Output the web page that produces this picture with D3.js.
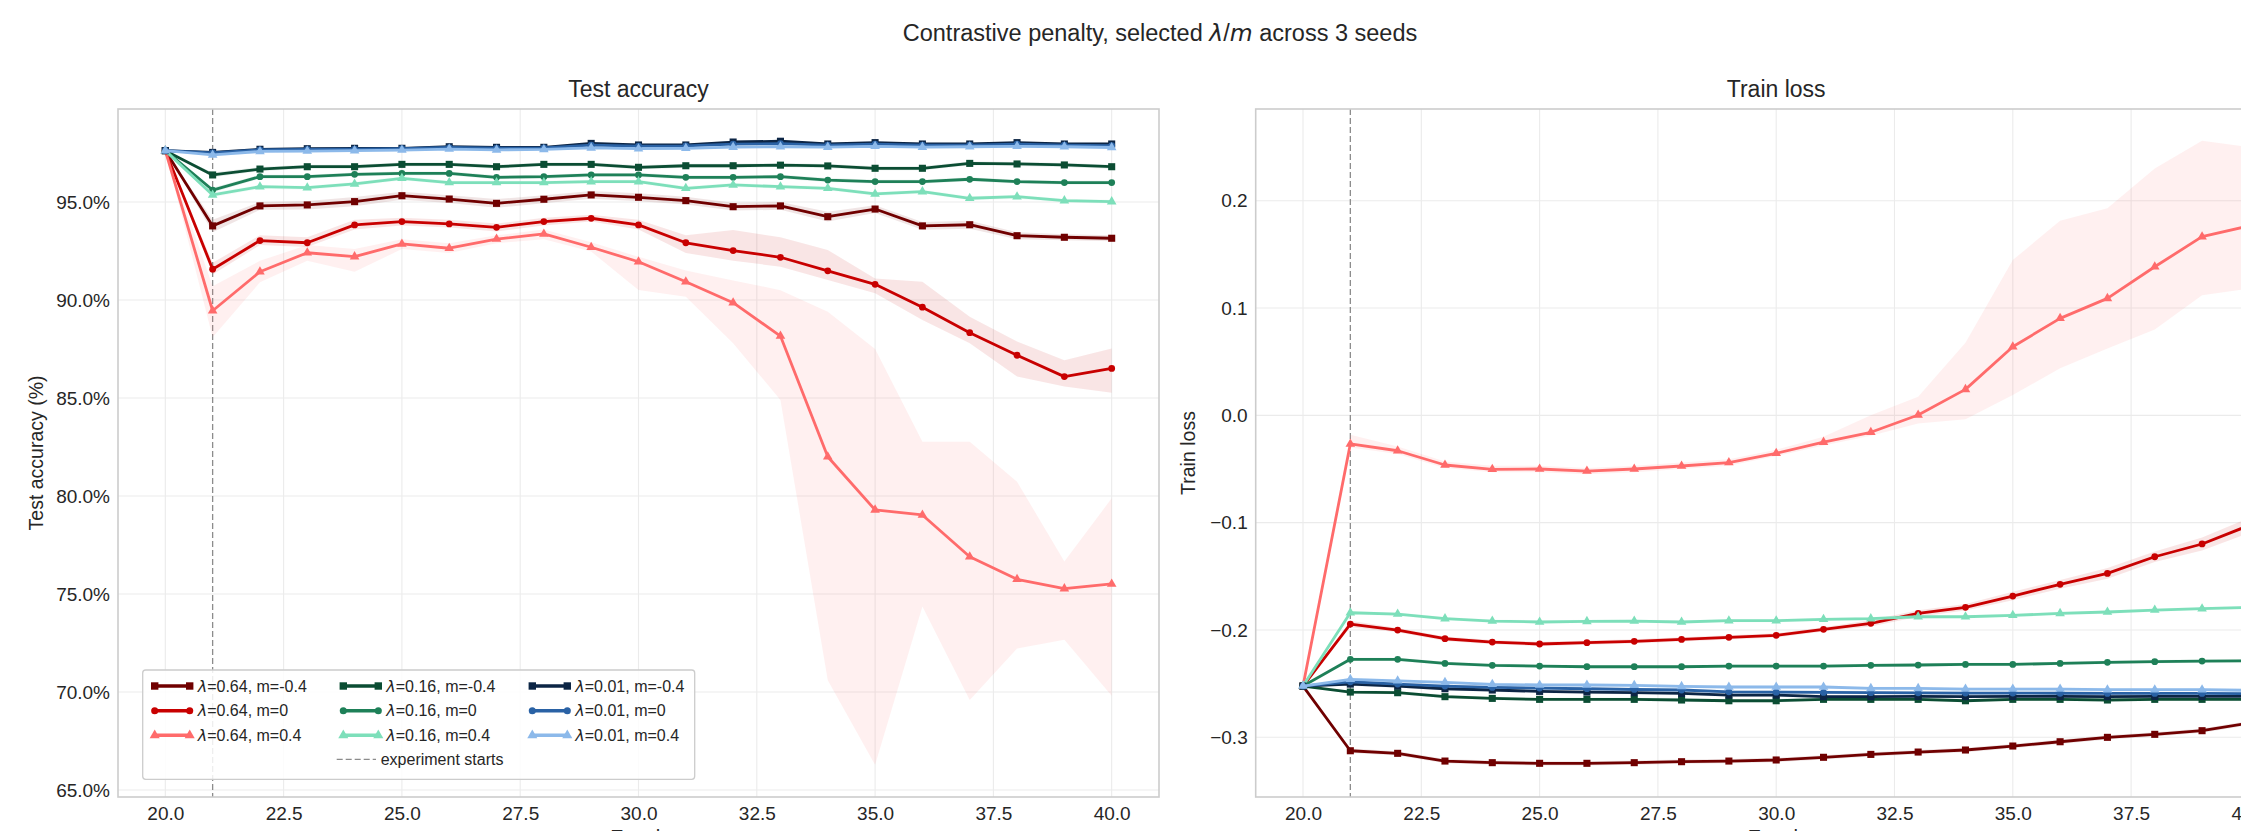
<!DOCTYPE html>
<html><head><meta charset="utf-8">
<script src="https://cdn.jsdelivr.net/npm/d3@7/dist/d3.min.js"></script>
<style>
body{margin:0;background:#fff}
svg{display:block}
text{font-family:'Liberation Sans',Arial,sans-serif;fill:#262626}
.math{font-family:'DejaVu Sans',sans-serif;font-style:italic}
</style>
</head><body>
<svg id="chart" width="2241" height="831"></svg>
<script>
// ---------------- data ----------------
const epochs = [20,21,22,23,24,25,26,27,28,29,30,31,32,33,34,35,36,37,38,39,40];
const xTicks = [20,22.5,25,27.5,30,32.5,35,37.5,40];
const accTicks = [65,70,75,80,85,90,95];
const lossTicks = [-0.3,-0.2,-0.1,0.0,0.1,0.2];

const lambdas = ["0.64","0.16","0.01"];
const margins = ["-0.4","0","0.4"];
const markerShapes = ["square","circle","triangle"];
const colors = [
  ["#700000","#c80000","#ff6b6b"],
  ["#0b4d33","#1e8058","#7ddfba"],
  ["#0c2545","#2a62a5","#8cb9ea"]
];

// Test accuracy (%) per series
const acc_l064_mneg = [97.62,93.78,94.80,94.85,95.02,95.32,95.15,94.93,95.14,95.36,95.24,95.07,94.76,94.80,94.25,94.64,93.78,93.84,93.28,93.20,93.15];
const acc_l064_m0   = [97.62,91.57,93.03,92.92,93.83,94.00,93.88,93.71,94.00,94.17,93.83,92.92,92.52,92.18,91.49,90.80,89.63,88.33,87.18,86.09,86.51];
const acc_l064_mpos = [97.62,89.45,91.44,92.41,92.21,92.86,92.64,93.11,93.37,92.69,91.95,90.93,89.86,88.16,82.00,79.29,79.03,76.90,75.75,75.27,75.51];
const acc_l016_mneg = [97.62,96.38,96.68,96.80,96.80,96.92,96.92,96.80,96.92,96.92,96.77,96.85,96.85,96.88,96.84,96.72,96.72,96.97,96.94,96.89,96.80];
const acc_l016_m0   = [97.62,95.61,96.29,96.29,96.41,96.46,96.46,96.26,96.29,96.38,96.38,96.26,96.26,96.29,96.12,96.04,96.04,96.16,96.04,95.99,95.99];
const acc_l016_mpos = [97.62,95.36,95.78,95.73,95.92,96.21,95.99,95.99,95.99,96.04,96.04,95.70,95.87,95.78,95.70,95.41,95.53,95.19,95.27,95.07,95.02];
const acc_l001_mneg = [97.62,97.53,97.69,97.72,97.74,97.74,97.82,97.79,97.79,97.99,97.91,97.91,98.06,98.10,97.96,98.03,97.96,97.96,98.03,97.96,97.96];
const acc_l001_m0   = [97.62,97.50,97.66,97.68,97.70,97.72,97.78,97.75,97.76,97.90,97.85,97.86,97.95,97.98,97.90,97.95,97.90,97.90,97.95,97.90,97.88];
const acc_l001_mpos = [97.62,97.40,97.58,97.60,97.62,97.65,97.70,97.66,97.68,97.76,97.72,97.74,97.80,97.82,97.80,97.84,97.80,97.82,97.84,97.82,97.78];

// Test accuracy shaded bands (lower / upper)
const accLo_l064_mneg = [97.62,93.45,94.60,94.62,94.78,95.12,94.95,94.70,94.94,95.16,95.04,94.87,94.56,94.60,94.00,94.44,93.58,93.64,93.10,93.05,93.00];
const accHi_l064_mneg = [97.62,94.10,95.00,95.05,95.25,95.52,95.35,95.15,95.34,95.56,95.44,95.27,94.96,95.00,94.50,94.84,93.98,94.04,93.46,93.35,93.30];
const accLo_l064_m0   = [97.62,91.30,92.80,92.70,93.60,93.80,93.70,93.50,93.80,94.00,93.60,92.40,92.00,91.70,91.02,90.34,88.98,87.79,86.10,85.58,85.27];
const accHi_l064_m0   = [97.62,91.90,93.30,93.20,94.10,94.20,94.10,93.90,94.20,94.35,94.10,93.30,93.57,93.20,92.55,91.10,90.93,89.15,87.88,86.93,87.53];
const accLo_l064_mpos = [97.62,88.10,90.90,92.00,91.44,92.60,92.40,92.90,93.10,92.47,90.51,90.17,87.79,84.90,70.60,66.28,74.36,69.59,72.22,72.67,69.80];
const accHi_l064_mpos = [97.62,90.70,92.00,92.80,92.60,93.10,92.90,93.30,93.60,92.95,92.20,91.50,91.00,90.50,89.40,87.50,82.77,82.77,80.73,76.65,79.88];
const accSpread_l016 = [0,0.12,0.1,0.1,0.1,0.1,0.1,0.1,0.1,0.1,0.1,0.1,0.1,0.1,0.1,0.1,0.1,0.1,0.1,0.1,0.1];
const accSpread_l001 = [0,0.08,0.06,0.06,0.06,0.06,0.06,0.06,0.06,0.06,0.06,0.06,0.06,0.06,0.06,0.06,0.06,0.06,0.06,0.06,0.06];

// Train loss per series
const loss_l064_mneg = [-0.2523,-0.3126,-0.3150,-0.3222,-0.3237,-0.3243,-0.3243,-0.3237,-0.3228,-0.3222,-0.3212,-0.3187,-0.3160,-0.3138,-0.3119,-0.3082,-0.3042,-0.3001,-0.2973,-0.2939,-0.2868];
const loss_l064_m0   = [-0.2523,-0.1945,-0.2001,-0.2082,-0.2113,-0.2131,-0.2119,-0.2106,-0.2088,-0.2069,-0.2050,-0.1994,-0.1938,-0.1846,-0.1789,-0.1684,-0.1575,-0.1473,-0.1318,-0.1199,-0.1025];
const loss_l064_mpos = [-0.2523,-0.0267,-0.0330,-0.0463,-0.0503,-0.0500,-0.0519,-0.0500,-0.0472,-0.0440,-0.0354,-0.0250,-0.0158,0.0003,0.0242,0.0639,0.0904,0.1090,0.1385,0.1665,0.1766];
const loss_l016_mneg = [-0.2523,-0.2579,-0.2585,-0.2622,-0.2638,-0.2647,-0.2647,-0.2647,-0.2653,-0.2660,-0.2660,-0.2647,-0.2647,-0.2647,-0.2660,-0.2647,-0.2647,-0.2653,-0.2647,-0.2647,-0.2647];
const loss_l016_m0   = [-0.2523,-0.2274,-0.2274,-0.2312,-0.2330,-0.2337,-0.2343,-0.2343,-0.2343,-0.2337,-0.2337,-0.2337,-0.2330,-0.2327,-0.2321,-0.2321,-0.2312,-0.2302,-0.2296,-0.2290,-0.2287];
const loss_l016_mpos = [-0.2523,-0.1840,-0.1852,-0.1895,-0.1917,-0.1926,-0.1920,-0.1917,-0.1926,-0.1914,-0.1914,-0.1901,-0.1895,-0.1877,-0.1877,-0.1864,-0.1846,-0.1833,-0.1815,-0.1802,-0.1790];
const loss_l001_mneg = [-0.2523,-0.2505,-0.2523,-0.2548,-0.2560,-0.2573,-0.2579,-0.2585,-0.2592,-0.2607,-0.2607,-0.2622,-0.2622,-0.2620,-0.2622,-0.2620,-0.2620,-0.2622,-0.2620,-0.2620,-0.2620];
const loss_l001_m0   = [-0.2523,-0.2483,-0.2505,-0.2523,-0.2536,-0.2542,-0.2548,-0.2555,-0.2560,-0.2577,-0.2580,-0.2582,-0.2585,-0.2586,-0.2588,-0.2588,-0.2590,-0.2592,-0.2592,-0.2592,-0.2594];
const loss_l001_mpos = [-0.2523,-0.2460,-0.2474,-0.2488,-0.2507,-0.2513,-0.2513,-0.2516,-0.2526,-0.2532,-0.2532,-0.2532,-0.2545,-0.2545,-0.2551,-0.2551,-0.2551,-0.2557,-0.2557,-0.2557,-0.2563];

// Train loss shaded bands
const lossLo_l064_mpos = [-0.2523,-0.0300,-0.0360,-0.0490,-0.0530,-0.0530,-0.0550,-0.0530,-0.0500,-0.0470,-0.0380,-0.0280,-0.0190,-0.0075,-0.0037,0.0190,0.0438,0.0624,0.0800,0.1120,0.1180];
const lossHi_l064_mpos = [-0.2523,-0.0180,-0.0290,-0.0430,-0.0470,-0.0470,-0.0490,-0.0470,-0.0440,-0.0410,-0.0320,-0.0200,0.0000,0.0174,0.0677,0.1447,0.1814,0.1929,0.2300,0.2560,0.2500];
const lossSpread_l064_m0 = [0,0.003,0.002,0.002,0.002,0.002,0.002,0.002,0.002,0.002,0.002,0.002,0.003,0.003,0.003,0.004,0.004,0.005,0.005,0.006,0.007];
const lossSpread_l064_mneg = [0,0.002,0.002,0.002,0.002,0.002,0.002,0.002,0.002,0.002,0.002,0.002,0.002,0.002,0.002,0.002,0.002,0.002,0.002,0.002,0.002];
const lossSpread_small = [0,0.0015,0.0015,0.0015,0.0015,0.0015,0.0015,0.0015,0.0015,0.0015,0.0015,0.0015,0.0015,0.0015,0.0015,0.0015,0.0015,0.0015,0.0015,0.0015,0.0015];

// --------------- assemble series ---------------
function band(v, s){ return {lo: v.map((d,i)=>d - s[i]), hi: v.map((d,i)=>d + s[i])}; }
const accSeries = [
  {li:0, mi:0, v:acc_l064_mneg, lo:accLo_l064_mneg, hi:accHi_l064_mneg},
  {li:0, mi:1, v:acc_l064_m0,   lo:accLo_l064_m0,   hi:accHi_l064_m0},
  {li:0, mi:2, v:acc_l064_mpos, lo:accLo_l064_mpos, hi:accHi_l064_mpos},
  {li:1, mi:0, v:acc_l016_mneg, ...band(acc_l016_mneg, accSpread_l016)},
  {li:1, mi:1, v:acc_l016_m0,   ...band(acc_l016_m0, accSpread_l016)},
  {li:1, mi:2, v:acc_l016_mpos, ...band(acc_l016_mpos, accSpread_l016)},
  {li:2, mi:0, v:acc_l001_mneg, ...band(acc_l001_mneg, accSpread_l001)},
  {li:2, mi:1, v:acc_l001_m0,   ...band(acc_l001_m0, accSpread_l001)},
  {li:2, mi:2, v:acc_l001_mpos, ...band(acc_l001_mpos, accSpread_l001)}
];
const lossSeries = [
  {li:0, mi:0, v:loss_l064_mneg, ...band(loss_l064_mneg, lossSpread_l064_mneg)},
  {li:0, mi:1, v:loss_l064_m0,   ...band(loss_l064_m0, lossSpread_l064_m0)},
  {li:0, mi:2, v:loss_l064_mpos, lo:lossLo_l064_mpos, hi:lossHi_l064_mpos},
  {li:1, mi:0, v:loss_l016_mneg, ...band(loss_l016_mneg, lossSpread_small)},
  {li:1, mi:1, v:loss_l016_m0,   ...band(loss_l016_m0, lossSpread_small)},
  {li:1, mi:2, v:loss_l016_mpos, ...band(loss_l016_mpos, lossSpread_small)},
  {li:2, mi:0, v:loss_l001_mneg, ...band(loss_l001_mneg, lossSpread_small)},
  {li:2, mi:1, v:loss_l001_m0,   ...band(loss_l001_m0, lossSpread_small)},
  {li:2, mi:2, v:loss_l001_mpos, ...band(loss_l001_mpos, lossSpread_small)}
];

// --------------- drawing ---------------
const svg = d3.select("#chart");
const TOP = 109, BOTTOM = 797;

function symbolFor(shape, legend){
  const t = shape==="square" ? d3.symbolSquare : shape==="circle" ? d3.symbolCircle : d3.symbolTriangle;
  const s = shape==="square" ? 50 : shape==="circle" ? 36 : 40;
  return d3.symbol().type(t).size(legend ? s*1.1 : s)();
}

function panel(opts){
  const x = d3.scaleLinear().domain([19,41]).range([opts.left, opts.left+1041]);
  const y = d3.scaleLinear().domain(opts.yDomain).range([BOTTOM, TOP]);
  const g = svg.append("g");
  const id = "clip"+opts.key;
  svg.append("defs").append("clipPath").attr("id", id)
    .append("rect").attr("x", opts.left).attr("y", TOP).attr("width", 1041).attr("height", BOTTOM-TOP);

  // grid
  g.append("g").selectAll("line").data(xTicks).join("line")
    .attr("x1", d=>x(d)).attr("x2", d=>x(d)).attr("y1", TOP).attr("y2", BOTTOM)
    .attr("stroke", "#ebebeb").attr("stroke-width", 1.1);
  g.append("g").selectAll("line").data(opts.yTicks).join("line")
    .attr("x1", opts.left).attr("x2", opts.left+1041).attr("y1", d=>y(d)).attr("y2", d=>y(d))
    .attr("stroke", "#ebebeb").attr("stroke-width", 1.1);

  // experiment start line
  g.append("line").attr("x1", x(21)).attr("x2", x(21)).attr("y1", TOP).attr("y2", BOTTOM)
    .attr("stroke", "#8c8c8c").attr("stroke-width", 1.3).attr("stroke-dasharray", "6,3");

  const data = g.append("g").attr("clip-path", `url(#${id})`);
  const area = d3.area().x((d,i)=>x(epochs[i])).y0(d=>y(d[0])).y1(d=>y(d[1]));
  const line = d3.line().x((d,i)=>x(epochs[i])).y(d=>y(d));
  opts.series.forEach(s=>{
    const c = colors[s.li][s.mi];
    data.append("path").datum(s.lo.map((d,i)=>[d, s.hi[i]]))
      .attr("d", area).attr("fill", c).attr("fill-opacity", 0.1).attr("stroke", "none");
  });
  opts.series.forEach(s=>{
    const c = colors[s.li][s.mi];
    data.append("path").datum(s.v).attr("d", line)
      .attr("fill", "none").attr("stroke", c).attr("stroke-width", 2.8)
      .attr("stroke-linejoin", "round");
    data.append("g").selectAll("path").data(s.v).join("path")
      .attr("transform", (d,i)=>`translate(${x(epochs[i])},${y(d)})`)
      .attr("d", symbolFor(markerShapes[s.mi])).attr("fill", c);
  });

  // frame
  g.append("rect").attr("x", opts.left).attr("y", TOP).attr("width", 1041).attr("height", BOTTOM-TOP)
    .attr("fill", "none").attr("stroke", "#cccccc").attr("stroke-width", 1.6);

  // axes
  const ax = g.append("g").attr("transform", `translate(0,${BOTTOM})`)
    .call(d3.axisBottom(x).tickValues(xTicks).tickFormat(d3.format(".1f")).tickSize(0).tickPadding(10));
  ax.select(".domain").remove();
  ax.selectAll("text").attr("font-size", 19).style("font-family", "'Liberation Sans',Arial,sans-serif").attr("fill", "#262626");
  const ay = g.append("g").attr("transform", `translate(${opts.left},0)`)
    .call(d3.axisLeft(y).tickValues(opts.yTicks).tickFormat(opts.yFmt).tickSize(0).tickPadding(8));
  ay.select(".domain").remove();
  ay.selectAll("text").attr("font-size", 19).style("font-family", "'Liberation Sans',Arial,sans-serif").attr("fill", "#262626");

  // titles / labels
  g.append("text").attr("x", opts.left+520.5).attr("y", 97).attr("text-anchor", "middle")
    .attr("font-size", 23).text(opts.title);
  g.append("text").attr("transform", `translate(${opts.ylabelX},${(TOP+BOTTOM)/2}) rotate(-90)`)
    .attr("text-anchor", "middle").attr("dominant-baseline", "central")
    .attr("font-size", 19.5).text(opts.ylabel);
  g.append("text").attr("x", opts.left+520.5).attr("y", 844).attr("text-anchor", "middle")
    .attr("font-size", 20).text("Epoch");
  return {x, y, g};
}

panel({key:"acc", left:118, yDomain:[64.64, 99.745], yTicks:accTicks,
  yFmt: d=>d.toFixed(1)+"%", series:accSeries, title:"Test accuracy",
  ylabel:"Test accuracy (%)", ylabelX:36});
panel({key:"loss", left:1255.7, yDomain:[-0.3557, 0.2855], yTicks:lossTicks,
  yFmt: d=>(d<0?"\u2212":"")+Math.abs(d).toFixed(1), series:lossSeries, title:"Train loss",
  ylabel:"Train loss", ylabelX:1188});

// suptitle
const st = svg.append("text").attr("x", 1160).attr("y", 41).attr("text-anchor", "middle").attr("font-size", 23.5);
st.append("tspan").text("Contrastive penalty, selected ");
st.append("tspan").attr("class", "math").text("\u03bb");
st.append("tspan").text("/");
st.append("tspan").attr("class", "math").text("m");
st.append("tspan").text(" across 3 seeds");

// legend
const lg = svg.append("g");
lg.append("rect").attr("x", 142.7).attr("y", 670).attr("width", 552).attr("height", 109.3)
  .attr("rx", 3).attr("fill", "#fff").attr("fill-opacity", 0.85).attr("stroke", "#cccccc").attr("stroke-width", 1.3);
const colX = [150.7, 339.3, 528.3];
const rowY = [686, 710.7, 735.3, 759.3];
lambdas.forEach((lam, li)=>{
  margins.forEach((m, mi)=>{
    const c = colors[li][mi];
    const x0 = colX[li], y0 = rowY[mi];
    lg.append("line").attr("x1", x0+4).attr("x2", x0+39).attr("y1", y0).attr("y2", y0)
      .attr("stroke", c).attr("stroke-width", 3.4);
    [x0+4, x0+39].forEach(px=>{
      lg.append("path").attr("transform", `translate(${px},${y0})`)
        .attr("d", symbolFor(markerShapes[mi], true)).attr("fill", c);
    });
    const t = lg.append("text").attr("x", x0+47).attr("y", y0+5.6).attr("font-size", 16);
    t.append("tspan").attr("class", "math").text("\u03bb");
    t.append("tspan").text(`=${lam}, m=${m}`);
  });
});
lg.append("line").attr("x1", 336.7).attr("x2", 376).attr("y1", rowY[3]).attr("y2", rowY[3])
  .attr("stroke", "#8c8c8c").attr("stroke-width", 1.3).attr("stroke-dasharray", "6,3");
lg.append("text").attr("x", 380.7).attr("y", rowY[3]+5.6).attr("font-size", 16).text("experiment starts");
</script>
</body></html>
